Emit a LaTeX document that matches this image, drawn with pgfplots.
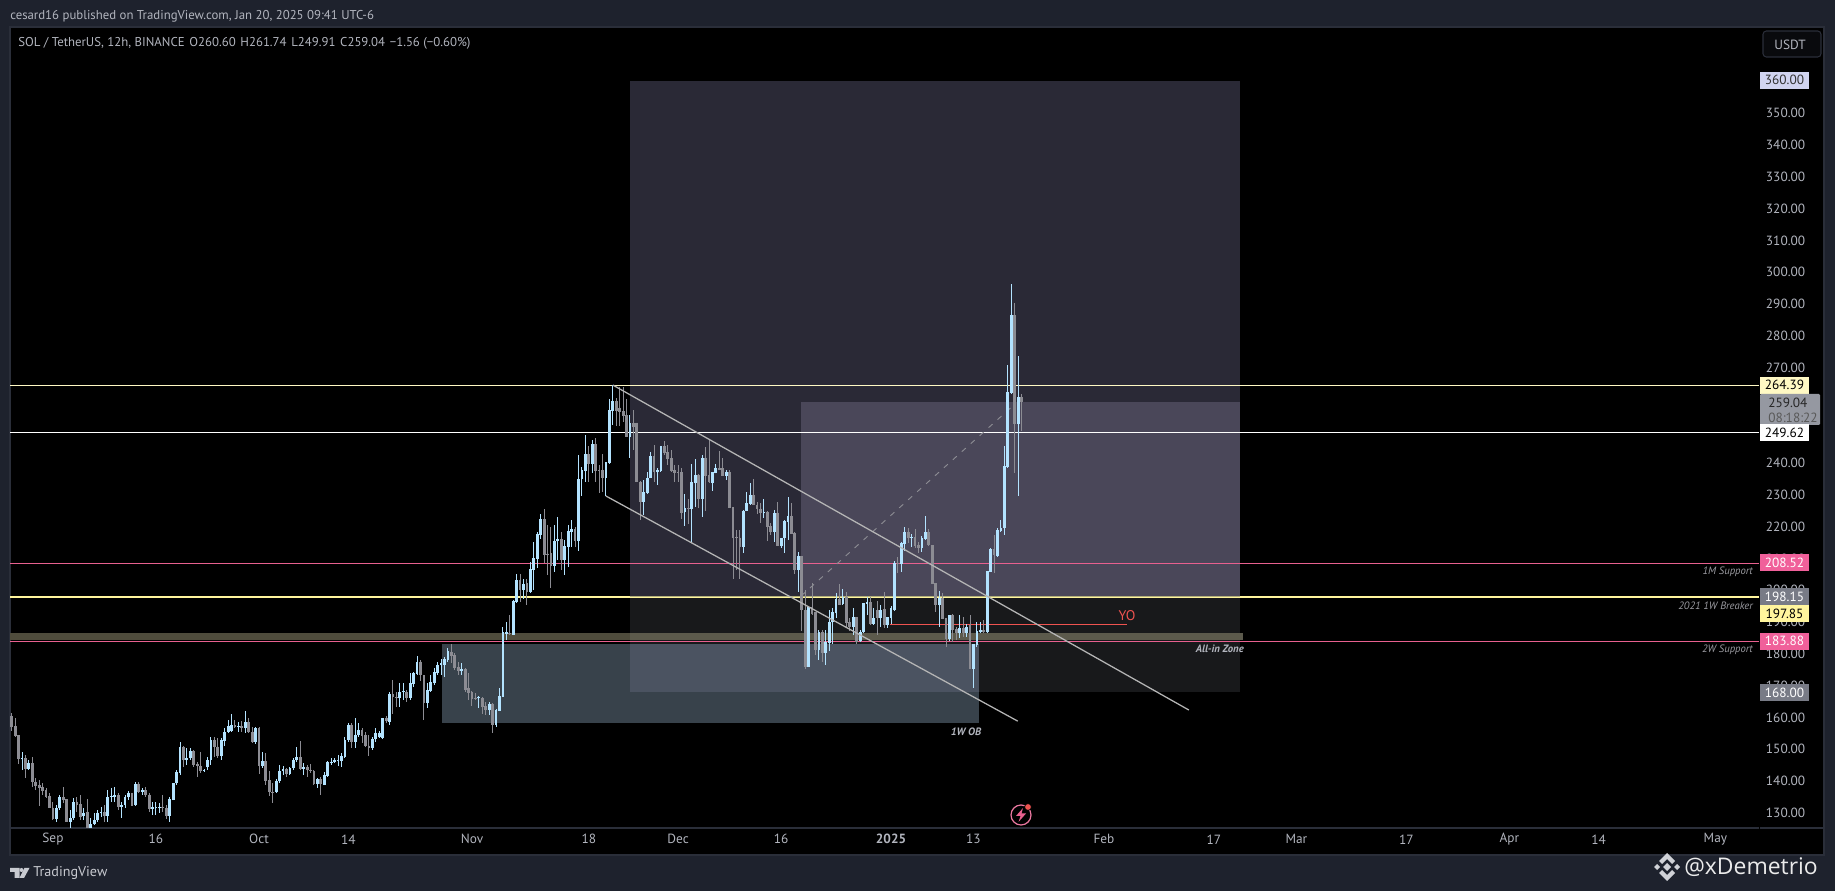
\documentclass[border=0pt]{standalone}
\usepackage{fontspec}
\setmainfont{PT Sans}
\newfontfamily\wmfont{Open Sans}
\usepackage{pgfplots}
\usepackage{pgfplotstable}
\pgfplotsset{compat=1.18}
\definecolor{pagebg}{HTML}{1E222D}
\definecolor{paneedge}{HTML}{2A2E39}
\definecolor{upc}{HTML}{B3E3FF}
\definecolor{dnc}{HTML}{8C8C93}
\definecolor{ticktxt}{HTML}{B2B5BE}
\definecolor{bigtop}{HTML}{2A2936}
\definecolor{inner}{HTML}{4A4759}
\definecolor{biglow}{HTML}{18191B}
\definecolor{ob}{HTML}{38424B}
\definecolor{obover}{HTML}{4B5361}
\definecolor{bandA}{HTML}{4F4C3C}
\definecolor{bandB}{HTML}{5C5A4C}
\definecolor{pinkl}{HTML}{E8608F}
\definecolor{pinkt}{HTML}{F0609A}
\definecolor{chan}{HTML}{B5B5B5}
\definecolor{tagg}{HTML}{787B86}
\definecolor{ylight}{HTML}{FFF9C4}
\definecolor{ymid}{HTML}{FFF59D}
\definecolor{redl}{HTML}{EF5350}
\definecolor{lav}{HTML}{D1D4F0}
\definecolor{lastg}{HTML}{9598A1}
\definecolor{logog}{HTML}{C8CAD0}
\definecolor{notetxt}{HTML}{9A9AA0}
% bar index: 0 = 1 Sep 2024, one bar every 12 h
\pgfplotstableread{
n o h l c
-12 160.4 161.4 155.8 157.1
-11 157.3 159.9 153.7 154.1
-10 154.3 154.3 145.3 146.8
-9 146.8 149.2 143.4 147.2
-8 147.1 148.1 140.8 143.7
-7 143.7 146.6 143.4 145.5
-6 145.5 147.4 138.2 139.7
-5 139.7 140.8 137.1 138.4
-4 138.7 140.3 132.2 137.7
-3 138.2 139.2 135.6 136.9
-2 137.1 137.7 134.5 135.0
-1 135.2 136.3 131.4 131.6
0 131.6 133.5 127.7 128.0
1 128.0 132.4 127.0 131.6
2 131.6 135.6 130.8 135.0
3 135.0 138.0 133.0 134.0
4 134.2 134.2 127.2 127.2
5 127.2 130.8 125.2 128.2
6 128.2 134.5 127.7 133.5
7 133.5 135.0 130.3 132.4
8 132.6 135.5 127.7 128.7
9 128.9 131.4 127.7 130.0
10 130.3 134.3 125.2 125.2
11 125.2 128.2 125.2 126.6
12 126.6 129.8 126.1 127.7
13 127.7 131.0 127.0 130.0
14 129.8 131.7 128.7 130.3
15 130.3 132.4 127.2 129.1
16 129.1 137.1 127.2 135.0
17 135.0 137.7 133.5 135.4
18 135.0 138.0 133.5 135.5
19 135.5 136.1 130.9 131.9
20 131.9 133.5 128.4 132.4
21 132.4 135.6 131.4 134.8
22 134.8 136.8 134.0 136.3
23 136.3 136.3 132.1 132.1
24 132.4 139.7 132.1 139.0
25 139.0 139.7 136.1 136.6
26 136.6 137.7 135.6 137.1
27 137.1 138.2 135.0 135.6
28 135.6 136.1 130.3 131.2
29 131.2 133.5 129.3 131.8
30 131.4 133.5 129.3 131.8
31 131.4 133.0 129.8 131.9
32 131.9 135.6 130.3 131.6
33 131.4 132.4 128.0 129.1
34 129.1 135.0 127.2 134.2
35 134.0 139.4 134.0 139.2
36 139.2 143.4 138.7 142.7
37 142.6 152.3 141.9 150.8
38 150.8 151.0 144.5 146.6
39 146.6 150.2 145.0 147.1
40 147.1 150.2 146.6 149.4
41 149.4 149.7 144.5 145.0
42 145.2 146.0 141.3 144.8
43 144.7 149.2 142.4 143.2
44 143.2 143.8 142.8 143.4
45 144.3 147.6 143.4 146.6
46 146.6 153.9 145.0 152.9
47 152.9 153.9 147.6 150.8
48 150.8 153.4 147.1 147.8
49 147.8 153.4 146.6 152.9
50 152.7 156.5 151.0 155.5
51 155.5 159.2 155.0 157.3
52 155.8 161.2 155.5 157.5
53 157.5 159.2 156.5 157.1
54 157.0 158.6 155.3 157.3
55 157.3 159.0 155.5 156.5
56 156.5 162.0 155.2 158.6
57 158.4 159.7 155.0 155.5
58 155.5 157.0 151.8 152.3
59 152.3 157.0 151.6 156.7
60 156.5 157.0 142.2 144.8
61 144.8 149.0 144.0 146.2
62 146.2 148.7 138.7 140.0
63 140.2 143.1 135.2 136.6
64 136.6 139.2 133.2 136.2
65 136.6 140.5 136.1 140.0
66 140.0 145.0 139.2 143.2
67 143.2 144.6 142.0 143.6
68 143.6 144.0 141.3 142.2
69 142.2 144.5 141.9 144.1
70 144.1 147.1 143.4 146.6
71 146.6 150.7 146.0 147.4
72 147.4 152.5 143.4 143.7
73 143.7 145.5 141.8 144.3
74 144.3 145.0 141.3 143.4
75 143.4 145.3 142.4 143.1
76 143.1 143.4 138.7 139.0
77 139.0 140.8 137.7 140.6
78 140.5 141.3 135.6 138.9
79 138.7 142.9 138.7 141.8
80 141.7 146.3 141.3 145.8
81 145.8 147.1 145.0 146.0
82 146.0 147.1 145.5 146.6
83 146.3 148.1 144.8 146.6
84 146.4 148.7 144.5 147.8
85 147.6 153.9 147.1 153.0
86 152.9 158.3 152.3 157.7
87 157.7 158.1 150.5 152.3
88 152.3 159.7 150.2 154.6
89 154.4 158.1 153.9 156.0
90 156.0 156.5 151.8 154.1
91 154.3 155.5 150.7 151.0
92 151.0 154.4 147.8 150.2
93 150.4 153.9 149.7 153.1
94 153.1 156.5 152.3 155.0
95 153.7 155.7 153.4 155.2
96 153.6 159.9 153.4 159.7
97 159.7 160.5 158.1 159.0
98 158.6 168.0 157.6 167.3
99 167.3 171.7 161.2 166.3
100 166.3 168.0 163.1 166.0
101 166.0 170.7 163.1 168.0
102 167.9 170.9 165.4 168.2
103 168.0 168.6 164.9 166.0
104 166.0 174.0 165.4 170.7
105 170.5 174.3 169.6 173.8
106 173.6 179.3 173.3 177.5
107 177.5 177.9 171.5 173.3
108 173.3 173.3 159.2 164.6
109 164.6 170.7 162.8 168.6
110 168.4 173.3 168.0 171.0
111 170.7 175.4 170.2 174.1
112 173.8 177.5 173.3 176.6
113 176.4 178.5 173.3 177.0
114 176.6 178.9 172.8 178.3
115 178.0 181.7 177.5 181.0
116 180.6 183.2 177.0 179.3
117 179.6 180.1 174.9 175.4
118 175.9 177.5 173.3 174.5
119 174.7 177.0 173.3 175.2
120 175.1 175.4 168.0 168.6
121 169.1 173.8 165.4 167.8
122 168.0 168.2 163.6 165.7
123 166.0 167.5 165.4 165.7
124 166.0 166.7 162.8 166.3
125 166.0 166.5 161.2 163.1
126 163.7 164.9 160.7 162.3
127 162.3 164.9 160.7 164.2
128 164.2 164.5 155.2 157.6
129 157.6 162.5 157.0 162.3
130 162.1 169.1 162.1 166.7
131 166.5 188.5 166.5 186.7
132 186.3 190.0 184.3 186.7
133 186.6 192.2 186.0 186.1
134 186.0 196.8 186.0 196.6
135 196.3 205.0 195.8 203.2
136 203.2 205.0 196.3 200.0
137 200.0 203.6 197.2 202.0
138 202.1 203.4 195.3 199.5
139 199.5 208.9 199.0 206.5
140 206.3 215.2 200.0 210.0
141 209.8 218.2 207.0 217.8
142 217.3 224.1 216.0 222.3
143 222.3 225.4 208.4 211.0
144 211.5 220.5 204.7 211.0
145 211.7 219.9 200.8 207.7
146 207.7 220.5 205.8 215.3
147 215.3 223.0 209.4 216.0
148 216.0 218.4 206.3 209.4
149 209.4 215.7 204.7 213.9
150 213.7 220.5 207.4 218.5
151 218.4 222.0 213.6 219.1
152 219.1 220.0 213.6 215.4
153 215.4 242.5 212.3 234.9
154 234.9 238.8 229.7 237.8
155 237.4 248.8 234.1 242.8
156 242.8 245.3 234.1 239.6
157 239.6 247.2 236.7 246.1
158 246.1 247.7 234.1 237.4
159 237.8 239.3 230.4 237.4
160 237.8 242.8 230.9 235.3
161 235.3 240.2 229.7 240.2
162 240.1 260.0 240.0 256.6
163 256.4 264.6 251.9 259.5
164 259.5 260.3 251.6 256.4
165 257.4 264.0 251.6 256.1
166 256.3 264.0 253.0 254.7
167 255.0 260.0 248.2 248.2
168 248.2 255.0 241.4 252.7
169 252.7 256.8 244.0 251.2
170 252.7 252.7 234.1 234.1
171 234.1 234.3 222.2 227.8
172 227.8 234.5 223.6 230.9
173 230.7 237.2 230.4 235.4
174 235.2 243.3 235.2 242.2
175 242.2 245.6 234.1 237.2
176 237.0 238.3 233.0 237.8
177 237.4 245.3 237.2 245.3
178 245.3 246.9 242.5 243.2
179 243.3 245.6 239.5 241.1
180 241.4 244.0 237.2 237.5
181 237.8 239.3 234.1 236.7
182 237.3 239.5 234.1 236.9
183 237.0 238.3 222.5 224.4
184 224.6 230.1 220.2 225.7
185 225.7 228.8 220.7 225.4
186 225.5 239.6 215.0 233.9
187 233.6 241.1 226.2 236.1
188 236.1 236.4 225.7 228.8
189 228.8 242.5 223.1 241.7
190 241.7 244.9 225.0 235.9
191 236.1 247.2 233.8 233.9
192 233.8 237.1 231.2 237.1
193 236.7 239.8 236.7 238.3
194 238.3 243.7 237.8 237.8
195 238.3 241.7 235.9 235.9
196 235.9 237.8 234.6 237.1
197 237.1 237.8 225.7 225.7
198 226.0 226.2 203.4 216.5
199 216.8 218.9 206.3 216.5
200 216.5 218.9 203.4 213.6
201 213.6 225.2 211.8 224.9
202 225.0 231.0 225.0 227.3
203 227.1 233.8 227.0 229.8
204 229.8 234.8 226.7 226.7
205 226.9 227.8 224.0 225.4
206 225.6 227.3 221.0 224.3
207 224.4 228.7 222.6 224.6
208 224.5 224.8 215.5 219.7
209 220.1 221.0 217.3 218.4
210 218.4 225.2 215.2 224.4
211 224.4 227.6 214.0 214.0
212 214.0 216.3 213.1 216.3
213 216.3 222.0 211.8 221.8
214 221.5 229.4 215.7 223.3
215 223.3 227.3 217.8 217.8
216 218.0 218.4 205.0 206.3
217 206.3 212.0 199.5 210.7
218 210.7 210.7 187.0 193.7
219 193.7 200.0 175.2 175.7
220 175.9 194.8 175.9 194.8
221 194.8 202.1 192.2 192.5
222 193.2 193.2 179.6 181.2
223 181.2 187.4 178.0 186.9
224 186.9 187.4 177.5 180.3
225 180.3 187.4 176.4 183.8
226 183.5 193.7 181.0 190.1
227 189.9 194.3 183.0 193.2
228 192.9 199.0 191.3 197.2
229 197.2 201.8 195.3 195.3
230 195.6 200.5 195.3 197.7
231 197.7 199.5 188.0 189.7
232 190.0 191.1 187.0 188.3
233 188.3 194.3 185.9 191.6
234 191.6 191.6 183.0 183.8
235 183.9 187.4 183.7 186.9
236 186.9 196.1 186.4 195.8
237 195.6 197.9 192.2 196.3
238 196.3 197.9 189.0 189.5
239 189.5 194.3 189.0 191.1
240 193.7 196.6 185.9 191.1
241 191.1 195.3 188.5 193.9
242 194.1 199.5 188.0 189.0
243 189.0 191.6 188.0 191.6
244 191.3 195.0 189.5 194.5
245 193.9 209.2 193.7 208.6
246 208.6 210.5 205.3 208.2
247 208.2 215.2 205.8 214.7
248 214.5 219.7 212.4 218.2
249 218.2 219.4 214.7 216.5
250 216.5 217.8 213.7 216.8
251 216.6 219.1 213.1 213.9
252 214.2 215.2 211.8 213.4
253 213.4 217.0 212.0 216.4
254 216.1 223.3 216.0 218.2
255 218.2 219.1 213.9 214.1
256 214.1 214.3 201.9 201.9
257 202.1 202.1 193.2 195.3
258 195.3 199.7 188.5 197.6
259 197.6 199.2 190.9 190.9
260 191.1 191.1 182.2 184.6
261 184.6 192.2 184.1 192.2
262 192.2 192.5 183.8 187.4
263 187.8 188.5 184.3 186.4
264 186.4 192.2 184.8 188.0
265 188.2 191.6 185.4 186.6
266 186.6 189.2 185.4 188.5
267 189.0 192.2 175.2 175.2
268 175.2 183.0 169.1 183.0
269 182.7 190.0 182.2 187.1
270 186.7 190.0 186.4 187.6
271 187.6 190.6 186.4 186.7
272 186.7 206.0 186.4 206.0
273 205.8 213.1 205.8 212.9
274 212.9 217.3 205.3 211.0
275 210.8 219.6 210.5 218.9
276 218.7 222.2 218.4 219.4
277 219.4 245.3 217.3 239.0
278 238.8 270.8 238.6 262.4
279 262.1 296.2 262.0 286.5
280 286.5 290.2 236.9 252.2
281 252.2 273.6 229.6 260.8
282 260.60 261.74 249.91 259.04
}\bars
\newcommand{\Txt}[4][]{\node[inner sep=0pt,#1] at ({(#2)*0.75pt},{(891-(#3))*0.75pt}) {#4};}
\newcommand{\Tag}[4]{\node[fill=#2,text=#3,minimum width=36.75pt,minimum height=12.75pt,inner sep=0pt,font=\fontsize{10}{11}\selectfont] at ({1784.5*0.75pt},{(891-(#1))*0.75pt}) {#4};}
\newcommand{\Pt}[2]{({(#1)*0.75pt},{(891-(#2))*0.75pt})}
\begin{document}
\begin{tikzpicture}
\path[use as bounding box] (0,0) rectangle (1376.25pt,668.25pt);
\fill[pagebg] (0,0) rectangle (1376.25pt,668.25pt);
\fill[black] (7.5pt,27pt) rectangle (1368pt,648pt);
\draw[paneedge,line width=1pt] (7.5pt,27pt) rectangle (1368pt,648pt);
\draw[paneedge,line width=0.9pt] \Pt{1760}{828} -- \Pt{1824}{828};
\begin{axis}[
  at={(7.5pt,47.25pt)},anchor=south west,
  scale only axis,width=1311.75pt,height=600.75pt,
  xmin=-12.5,xmax=496.7,ymin=125.2,ymax=377.1,
  clip mode=individual,no markers,
  axis x line*=bottom,axis y line*=right,
  y axis line style={draw=none},
  x axis line style={draw=paneedge,line width=0.9pt,-},
  major tick length=0pt,minor tick num=0,
  xtick={0,30,60,86,122,156,182,212,244,268,306,338,362,394,424,450,484},
  xticklabels={Sep,16,Oct,14,Nov,18,Dec,16,\textbf{2025},13,Feb,17,Mar,17,Apr,14,May},
  ytick={130,140,...,360},
  yticklabel style={/pgf/number format/fixed,/pgf/number format/fixed zerofill,/pgf/number format/precision=2,/pgf/number format/assume math mode=true,text=ticktxt,font=\fontsize{10}{11}\selectfont,anchor=west,inner sep=0pt,xshift=5pt},
  xticklabel style={text=ticktxt,font=\fontsize{10}{11}\selectfont,anchor=center,yshift=-8.5pt},
  xticklabel pos=bottom,yticklabel pos=right,
]
% drawings behind the candles
\addplot[fill=bigtop,draw=none,forget plot] coordinates {(168,198.15)(345.6,198.15)(345.6,360)(168,360)} -- cycle;
\addplot[fill=inner,draw=none,forget plot] coordinates {(217.8,198.15)(345.6,198.15)(345.6,259.04)(217.8,259.04)} -- cycle;
\addplot[fill=biglow,draw=none,forget plot] coordinates {(168,168)(345.6,168)(345.6,198.15)(168,198.15)} -- cycle;
\addplot[fill=ob,draw=none,forget plot] coordinates {(113.2,158.3)(269.6,158.3)(269.6,183.05)(113.2,183.05)} -- cycle;
\addplot[fill=obover,draw=none,forget plot] coordinates {(168,168)(269.6,168)(269.6,183.05)(168,183.05)} -- cycle;
\addplot[fill=bandA,draw=none,forget plot] coordinates {(-12.5,184.3)(168,184.3)(168,186.5)(-12.5,186.5)} -- cycle;
\addplot[fill=bandB,draw=none,forget plot] coordinates {(168,184.3)(346.4,184.3)(346.4,186.5)(168,186.5)} -- cycle;
% horizontal levels
\addplot[ylight,line width=1.1pt,forget plot] coordinates {(-12.5,264.39)(496.7,264.39)};
\addplot[white,line width=1.1pt,forget plot] coordinates {(-12.5,249.62)(496.7,249.62)};
\addplot[pinkl,line width=0.8pt,forget plot] coordinates {(-12.5,208.52)(496.7,208.52)};
\addplot[ymid,line width=0.8pt,forget plot] coordinates {(-12.5,197.85)(496.7,197.85)};
\addplot[pinkl,line width=0.8pt,forget plot] coordinates {(-12.5,183.88)(496.7,183.88)};
\addplot[gray!70!yellow,line width=0.7pt,forget plot] coordinates {(168,198.15)(345.6,198.15)};
\addplot[dnc,line width=0.7pt,dash pattern=on 4pt off 5pt,forget plot] coordinates {(217.8,198.15)(279,257.5)};
\addplot[redl,line width=0.8pt,forget plot] coordinates {(243.7,189.3)(312.7,189.3)};
% candles: wicks, then bodies
\addplot[draw=none,mark=none,forget plot,restrict expr to domain={\thisrow{c}-\thisrow{o}}{0:1000},
  error bars/.cd,y dir=both,y explicit,error mark=none,error bar style={draw=upc,line width=0.75pt}]
  table[x=n,y=o,y error plus expr={\thisrow{h}-\thisrow{o}},y error minus expr={\thisrow{o}-\thisrow{l}}] {\bars};
\addplot[draw=none,mark=none,forget plot,restrict expr to domain={\thisrow{c}-\thisrow{o}}{-1000:-0.00001},
  error bars/.cd,y dir=both,y explicit,error mark=none,error bar style={draw=dnc,line width=0.75pt}]
  table[x=n,y=o,y error plus expr={\thisrow{h}-\thisrow{o}},y error minus expr={\thisrow{o}-\thisrow{l}}] {\bars};
\addplot[draw=none,mark=none,forget plot,restrict expr to domain={\thisrow{c}-\thisrow{o}}{-1000:-0.00001},
  error bars/.cd,y dir=minus,y explicit,error mark=none,error bar style={draw=dnc,line width=2.1pt}]
  table[x=n,y=o,y error minus expr={\thisrow{o}-\thisrow{c}}] {\bars};
\addplot[draw=none,mark=none,forget plot,restrict expr to domain={\thisrow{c}-\thisrow{o}}{0:1000},
  error bars/.cd,y dir=plus,y explicit,error mark=none,error bar style={draw=upc,line width=2.1pt}]
  table[x=n,y=o,y error plus expr={\thisrow{c}-\thisrow{o}}] {\bars};
% channel
\addplot[chan,line width=0.95pt,forget plot] coordinates {(163.0,264.5)(330.7,162.3)};
\addplot[chan,line width=0.95pt,forget plot] coordinates {(161.0,229.6)(280.9,158.8)};
\end{axis}
% top texts
\Txt[anchor=west,text=ticktxt,font=\fontsize{9.6}{11}\selectfont]{10}{16}{cesard16 published on TradingView.com, Jan 20, 2025 09:41 UTC-6}
\Txt[anchor=west,text=ticktxt,font=\fontsize{9.6}{11}\selectfont]{18}{43.5}{SOL / TetherUS, 12h, BINANCE\hspace{3.5pt}O260.60\hspace{3.5pt}H261.74\hspace{3.5pt}L249.91\hspace{3.5pt}C259.04\hspace{3.5pt}−1.56 (−0.60\%)}
% USDT button
\draw[paneedge,fill=black!70!pagebg,line width=0.8pt,rounded corners=2.5pt] \Pt{1763}{31} rectangle \Pt{1821}{57};
\Txt[text=ticktxt,font=\fontsize{10}{11}\selectfont]{1790}{45}{USDT}
% price tags
\Tag{80.3}{lav}{black!80}{360.00}
\Tag{385.3}{ylight}{black}{264.39}
\node[fill=lastg,rounded corners=0.8pt,minimum width=45pt,minimum height=23.25pt,inner sep=0pt] at ({1790*0.75pt},{(891-409.5)*0.75pt}) {};
\Txt[anchor=west,text=black!85,font=\fontsize{10}{11}\selectfont]{1768}{402.5}{259.04}
\Txt[anchor=west,text=black!65,font=\fontsize{10}{11}\selectfont]{1768}{417.5}{08:18:22}
\Tag{433}{white}{black}{249.62}
\Tag{563}{pinkt}{white}{208.52}
\Tag{596.5}{tagg}{white}{198.15}
\Tag{613.5}{ymid}{black}{197.85}
\Tag{641.3}{pinkt}{white}{183.88}
\Tag{692.5}{tagg}{white}{168.00}
% annotations
\Txt[anchor=east,text=notetxt,font=\fontsize{8}{9}\selectfont\itshape]{1753}{571.5}{1M Support}
\Txt[anchor=east,text=notetxt,font=\fontsize{8}{9}\selectfont\itshape]{1753}{605.5}{2021 1W Breaker}
\Txt[anchor=east,text=notetxt,font=\fontsize{8}{9}\selectfont\itshape]{1753}{649.5}{2W Support}
\Txt[anchor=east,text=ticktxt,font=\fontsize{8}{9}\selectfont\bfseries\itshape]{1244}{649}{All-in Zone}
\Txt[text=ticktxt,font=\fontsize{8}{9}\selectfont\bfseries\itshape]{966}{732}{1W OB}
\Txt[text=redl,font=\fontsize{10.5}{12}\selectfont]{1127}{616}{YO}
% lightning icon
\draw[pinkl!85!white,line width=0.9pt] \Pt{1021}{815} circle (7.5pt);
\fill[pinkl] \Pt{1023}{808} -- \Pt{1016}{816} -- \Pt{1020.5}{816} -- \Pt{1018.5}{822} -- \Pt{1026}{813.5} -- \Pt{1021.5}{813.5} -- cycle;
\fill[redl,draw=black,line width=0.6pt] \Pt{1028}{807} circle (2.6pt);
% TradingView logo
\fill[logog] \Pt{10}{868} -- \Pt{19.5}{868} -- \Pt{19.5}{878} -- \Pt{14.5}{878} -- \Pt{14.5}{872} -- \Pt{10}{872} -- cycle;
\fill[logog] \Pt{21.5}{870} circle (1.5pt);
\fill[logog] \Pt{24.5}{868} -- \Pt{29.5}{868} -- \Pt{24}{878} -- \Pt{19.5}{878} -- cycle;
\Txt[anchor=west,text=logog,font=\fontsize{10.6}{12}\selectfont]{33}{873.5}{TradingView}
% watermark
\fill[logog!85!white] \Pt{1667}{853} -- \Pt{1675}{861} -- \Pt{1672}{864} -- \Pt{1667}{859} -- \Pt{1662}{864} -- \Pt{1659}{861} -- cycle;
\fill[logog!85!white] \Pt{1667}{881} -- \Pt{1675}{873} -- \Pt{1672}{870} -- \Pt{1667}{875} -- \Pt{1662}{870} -- \Pt{1659}{873} -- cycle;
\fill[logog!85!white] \Pt{1667}{863} -- \Pt{1671}{867} -- \Pt{1667}{871} -- \Pt{1663}{867} -- cycle;
\fill[logog!85!white] \Pt{1657}{864} -- \Pt{1660}{867} -- \Pt{1657}{870} -- \Pt{1654}{867} -- cycle;
\fill[logog!85!white] \Pt{1677}{864} -- \Pt{1680}{867} -- \Pt{1677}{870} -- \Pt{1674}{867} -- cycle;
\Txt[anchor=west,text=white!92!black,font=\wmfont\fontsize{17.2}{20}\selectfont]{1684}{867}{@xDemetrio}
\end{tikzpicture}
\end{document}
